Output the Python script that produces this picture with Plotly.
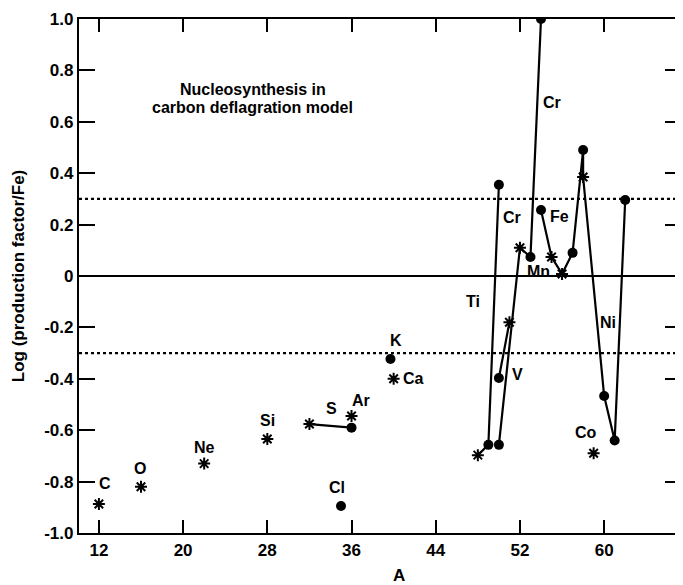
import plotly.graph_objects as go

# ---- data ----
iso_name = ["C12", "O16", "Ne22", "Si28", "S32", "S36", "Ar36", "Cl35", "K39", "Ca40",
            "Ti48", "Ti49", "Ti50", "V50", "V51", "Cr50", "Cr52", "Cr53", "Cr54",
            "Fe54", "Mn55", "Fe56", "Fe57", "Fe58", "Ni58", "Co59", "Ni60", "Ni61", "Ni62"]
iso_A = [12, 16, 22, 28, 32, 36, 36, 35, 39.7, 40,
         48, 49, 50, 50, 51, 50, 52, 53, 54,
         54, 55, 56, 57, 58, 58, 59, 60, 61, 62]
iso_v = [-0.887, -0.82, -0.73, -0.634, -0.576, -0.59, -0.545, -0.895, -0.323, -0.40,
         -0.697, -0.657, 0.355, -0.397, -0.18, -0.657, 0.11, 0.074, 1.0,
         0.257, 0.074, 0.008, 0.09, 0.49, 0.385, -0.69, -0.467, -0.64, 0.296]
iso_kind = ["star", "star", "star", "star", "star", "dot", "star", "dot", "dot", "star",
            "star", "dot", "dot", "dot", "star", "dot", "star", "dot", "dot",
            "dot", "star", "star", "dot", "dot", "star", "star", "dot", "dot", "dot"]

chains = [
    ["S32", "S36"],
    ["Ti48", "Ti49", "Ti50"],
    ["V50", "V51"],
    ["Cr50", "Cr52", "Cr53", "Cr54"],
    ["Fe54", "Mn55", "Fe56", "Fe57", "Fe58", "Ni58", "Ni60", "Ni61", "Ni62"],
]

label_text = ["C", "O", "Ne", "Si", "S", "Ar", "Cl", "K", "Ca", "Ti", "V", "Cr", "Cr",
              "Fe", "Mn", "Ni", "Co"]
label_A = [12.57, 15.9, 22.0, 28.0, 34.1, 36.9, 34.6, 40.2, 41.9, 47.5, 51.8, 51.2, 55.0,
           55.75, 53.8, 60.4, 58.3]
label_v = [-0.807, -0.749, -0.667, -0.561, -0.515, -0.483, -0.823, -0.25, -0.398, -0.101,
           -0.382, 0.226, 0.674, 0.23, 0.016, -0.179, -0.608]

title_lines = ["Nucleosynthesis in", "carbon deflagration model"]
title_A = 26.6
title_v = [0.725, 0.655]

x_ticks = [12, 20, 28, 36, 44, 52, 60]
y_ticks = [1.0, 0.8, 0.6, 0.4, 0.2, 0, -0.2, -0.4, -0.6, -0.8, -1.0]
y_tick_text = ["1.0", "0.8", "0.6", "0.4", "0.2", "0", "-0.2", "-0.4", "-0.6", "-0.8", "-1.0"]
band_levels = [0.3, -0.3]

FONT = "Liberation Sans, Arial, sans-serif"

fig = go.Figure()

idx = {n: i for i, n in enumerate(iso_name)}
for ch in chains:
    fig.add_trace(go.Scatter(
        x=[iso_A[idx[n]] for n in ch], y=[iso_v[idx[n]] for n in ch],
        mode="lines", line=dict(color="black", width=2.2), hoverinfo="skip", showlegend=False))

star_x = [a for a, k in zip(iso_A, iso_kind) if k == "star"]
star_y = [v for v, k in zip(iso_v, iso_kind) if k == "star"]
dot_x = [a for a, k in zip(iso_A, iso_kind) if k == "dot"]
dot_y = [v for v, k in zip(iso_v, iso_kind) if k == "dot"]

fig.add_trace(go.Scatter(x=dot_x, y=dot_y, mode="markers",
                         marker=dict(symbol="circle", size=10, color="black"),
                         showlegend=False))
fig.add_trace(go.Scatter(x=star_x, y=star_y, mode="markers",
                         marker=dict(symbol="asterisk-open", size=10, color="black",
                                     line=dict(color="black", width=2)),
                         showlegend=False))

for t, a, v in zip(label_text, label_A, label_v):
    fig.add_annotation(x=a, y=v, text="<b>%s</b>" % t, showarrow=False,
                       font=dict(family=FONT, size=16, color="black"))

for t, v in zip(title_lines, title_v):
    fig.add_annotation(x=title_A, y=v, text="<b>%s</b>" % t, showarrow=False,
                       font=dict(family=FONT, size=16, color="black"))

# reference lines
fig.add_hline(y=0, line=dict(color="black", width=1.8))
for lv in band_levels:
    fig.add_hline(y=lv, line=dict(color="black", width=2.2, dash="dot"))

fig.add_annotation(xref="paper", yref="paper", x=-0.101, y=0.5, xanchor="center",
                   text="<b>Log (production factor/Fe)</b>", textangle=-90, showarrow=False,
                   font=dict(family=FONT, size=17, color="black"))
fig.add_annotation(xref="paper", yref="paper", x=0.531, y=-0.083, yanchor="middle",
                   text="<b>A</b>", showarrow=False,
                   font=dict(family=FONT, size=17, color="black"))

fig.update_xaxes(range=[10.11, 67.3], tickvals=x_ticks, ticktext=["<b>%d</b>" % t for t in x_ticks],
                 ticks="inside", ticklen=13, tickwidth=1.8, tickcolor="black",
                 showline=True, linecolor="black", linewidth=2.2, mirror="ticks",
                 showgrid=False, zeroline=False,
                 tickfont=dict(family=FONT, size=17, color="black"))
fig.update_yaxes(range=[-1.0, 1.0], tickvals=y_ticks, ticktext=["<b>%s</b>" % t for t in y_tick_text],
                 ticks="inside", ticklen=16, tickwidth=1.8, tickcolor="black",
                 showline=True, linecolor="black", linewidth=2.2, mirror="ticks",
                 showgrid=False, zeroline=False,
                 tickfont=dict(family=FONT, size=17, color="black"))

# page body adds an 8px margin; compensate so the plot area sits where the reference has it
fig.update_layout(width=675, height=577, margin=dict(l=71, r=0, t=11, b=52),
                  plot_bgcolor="white", paper_bgcolor="white", showlegend=False)

fig.write_html("out.html")
